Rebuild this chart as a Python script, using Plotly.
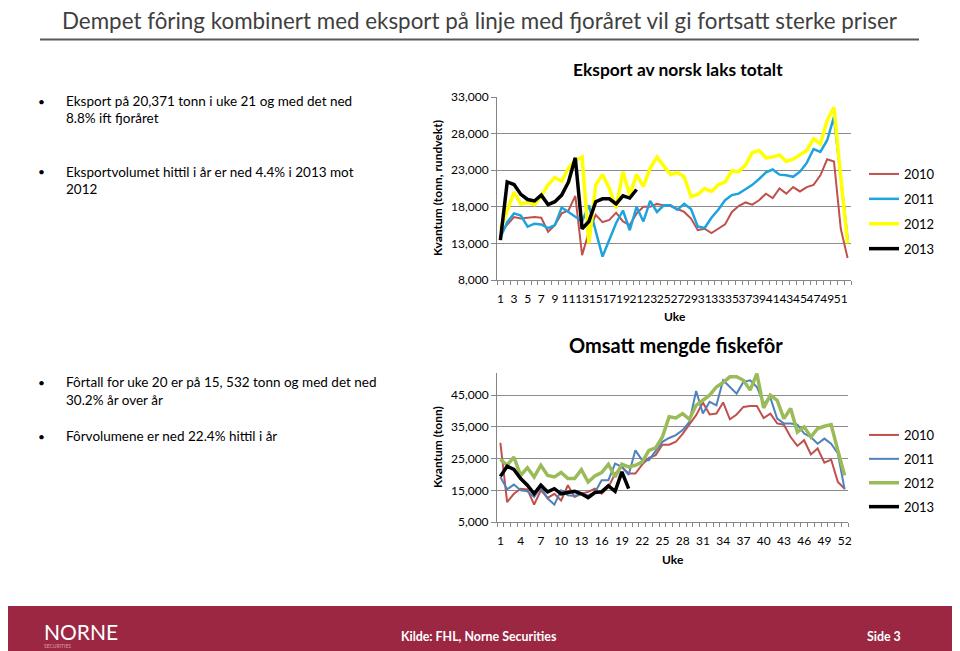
import plotly.graph_objects as go

# ---------------- data ----------------
weeks = list(range(1, 53))

exp_2010 = [14500, 15500, 16600, 16400, 16500, 16600, 16500, 14600, 15500, 17100,
            17500, 19500, 11400, 14600, 16900, 15900, 16200, 17200, 16000, 15500,
            17100, 18000, 18000, 18400, 18200, 18100, 17700, 17300, 16400, 14800,
            15000, 14400, 15000, 15600, 17300, 18100, 18600, 18300, 18900, 19800,
            19200, 20500, 19800, 20700, 20100, 20700, 21000, 22300, 24500, 24200,
            15000, 11000]
exp_2011 = [13800, 15900, 17100, 16800, 15300, 15700, 15600, 15100, 15500, 17900,
            17300, 16600, 16000, 18200, 14800, 11200, 13500, 15800, 17500, 14800,
            18000, 16000, 18800, 17300, 18200, 18200, 17600, 18400, 17700, 15300,
            15100, 16500, 17600, 18900, 19600, 19800, 20400, 21000, 21800, 22700,
            23100, 22400, 22300, 22100, 22800, 24000, 25900, 25500, 27100, 30300,
            22000, 13500]
exp_2012 = [15000, 17500, 20000, 18400, 18600, 18300, 19500, 21000, 22000, 21500,
            23300, 24300, 24800, 13000, 21000, 22400, 20500, 17800, 22800, 19600,
            22400, 20800, 23300, 24800, 23500, 22400, 22700, 22100, 19400, 19700,
            20500, 20100, 21000, 21400, 22900, 22800, 23700, 25400, 25700, 24700,
            24800, 25100, 24200, 24500, 25100, 25700, 27300, 26600, 29800, 31600,
            22000, 13000]
exp_2013 = [13450, 21400, 21050, 19700, 19000, 18800, 19600, 18300, 18700, 19600,
            21400, 24700, 15000, 16000, 18700, 19100, 19100, 18400, 19500, 19200,
            20371]

feed_2010 = [30000, 11300, 13900, 15500, 15300, 10500, 15000, 12600, 13900, 11800,
             16600, 12900, 13900, 14500, 15500, 13900, 16000, 20300, 22400, 20300,
             20300, 23100, 25200, 26100, 29400, 29400, 30300, 32800, 35800, 38700,
             42700, 38900, 39200, 42700, 37400, 38900, 41300, 41600, 41600, 37800,
             39200, 36100, 35700, 31800, 29000, 30800, 26300, 28200, 23700, 24700,
             17600, 15500]
feed_2011 = [19200, 15300, 16800, 15000, 14700, 12900, 16000, 12400, 10500, 15000,
             13400, 13200, 13900, 13400, 14300, 18200, 18200, 23400, 22400, 19900,
             27600, 24500, 24500, 27300, 30300, 31500, 32400, 34000, 36600, 46300,
             39200, 42900, 41800, 49700, 47600, 45500, 49200, 49700, 47600, 42400,
             44200, 37600, 36100, 36100, 35700, 32900, 31800, 29700, 31300, 29700,
             26600, 15300]
feed_2012 = [24800, 22900, 25500, 19700, 22100, 19200, 22900, 19700, 19200, 20600,
             18700, 18700, 21500, 17600, 19500, 20600, 23200, 19200, 23200, 22400,
             22900, 23900, 27600, 28400, 31800, 38200, 37800, 39200, 37400, 41800,
             43400, 45000, 47600, 49000, 50800, 50800, 49700, 46600, 51800, 41000,
             45000, 43400, 37600, 40800, 33400, 35000, 31800, 34500, 35200, 35700,
             27500, 19700]
feed_2013 = [19400, 22600, 21600, 18700, 16600, 13900, 16600, 14500, 15500, 13900,
             14300, 14700, 13900, 12700, 14300, 14500, 16400, 14700, 20800, 15532]

series_names = ["2010", "2011", "2012", "2013"]
top_y_ticks = [8000, 13000, 18000, 23000, 28000, 33000]
bot_y_ticks = [5000, 15000, 25000, 35000, 45000]
top_x_ticks = weeks[::2]
bot_x_ticks = weeks[::3]

title_text = "Dempet fôring kombinert med eksport på linje med fjoråret vil gi fortsatt sterke priser"
bullets = [
    (["Eksport på 20,371 tonn i uke 21 og med det ned", "8.8% ift fjoråret"], [101, 118]),
    (["Eksportvolumet hittil i år er ned 4.4% i 2013 mot", "2012"], [172, 189]),
    (["Fôrtall for uke 20 er på 15, 532 tonn og med det ned", "30.2% år over år"], [382, 400]),
    (["Fôrvolumene er ned 22.4% hittil i år"], [436]),
]

# ---------------- figure ----------------
# The page body has an 8px margin, so the figure is sized to end at the window edge
OFF = 8
W, H = 960 - OFF, 651 - OFF
FONT = "Lato, 'Open Sans', sans-serif"


def px(x):
    return (x - OFF) / W


def py(y):
    return 1 - (y - OFF) / H


fig = go.Figure()

top_styles = [("#C0504D", 2), ("#1FA3DD", 2.5), ("#FFFF00", 3.5), ("#000000", 3.5)]
top_data = [exp_2010, exp_2011, exp_2012, exp_2013]
for name, vals, (col, w) in zip(series_names, top_data, top_styles):
    fig.add_trace(go.Scatter(
        x=weeks[:len(vals)], y=vals, mode="lines", name=name,
        line=dict(color=col, width=w), xaxis="x", yaxis="y",
        legend="legend", legendgroup="t" + name))

bot_styles = [("#C0504D", 2), ("#4F81BD", 2), ("#9BBB59", 3.5), ("#000000", 3.5)]
bot_data = [feed_2010, feed_2011, feed_2012, feed_2013]
for name, vals, (col, w) in zip(series_names, bot_data, bot_styles):
    fig.add_trace(go.Scatter(
        x=weeks[:len(vals)], y=vals, mode="lines", name=name,
        line=dict(color=col, width=w), xaxis="x2", yaxis="y2",
        legend="legend2", legendgroup="b" + name))

axis_col = "#868686"
grid_col = "#8C8C8C"
tickfont = dict(family=FONT, size=12, color="#000000")

common_x = dict(range=[0.5, 52.5], showgrid=False, showline=True, linecolor=axis_col,
                linewidth=1, ticks="outside", ticklen=8, tickcolor="rgba(0,0,0,0)",
                tickangle=0, tickfont=tickfont, zeroline=False,
                minor=dict(tickmode="array", tickvals=[i + 0.5 for i in range(0, 53)],
                           ticks="outside", ticklen=4, tickcolor=axis_col, showgrid=False),
                fixedrange=True)
common_y = dict(showgrid=True, gridcolor=grid_col, gridwidth=1, showline=True,
                linecolor=axis_col, ticks="outside", ticklen=5, tickcolor=axis_col,
                tickformat=",", tickfont=tickfont, zeroline=False, tickmode="array")

fig.update_layout(
    width=W, height=H,
    margin=dict(l=0, r=0, t=0, b=0, pad=0, autoexpand=False),
    paper_bgcolor="white", plot_bgcolor="white",
    font=dict(family=FONT, color="#000000"),
    xaxis=dict(domain=[px(497), px(851)], anchor="y", tickmode="array",
               tickvals=top_x_ticks, ticktext=[str(v) for v in top_x_ticks], **common_x),
    yaxis=dict(domain=[py(280), py(96.7)], anchor="x", range=[8000, 33050],
               tickvals=top_y_ticks, **common_y),
    xaxis2=dict(domain=[px(497), px(848)], anchor="y2", tickmode="array",
                tickvals=bot_x_ticks, ticktext=[str(v) for v in bot_x_ticks], **common_x),
    yaxis2=dict(domain=[py(522), py(373)], anchor="x2", range=[5000, 52000],
                tickvals=bot_y_ticks, **common_y),
    legend=dict(x=px(864), y=py(159), xanchor="left", yanchor="top",
                font=dict(family=FONT, size=13, color="#000000"),
                tracegroupgap=5, bgcolor="rgba(0,0,0,0)"),
    legend2=dict(x=px(864), y=py(420), xanchor="left", yanchor="top",
                 font=dict(family=FONT, size=13, color="#000000"),
                 tracegroupgap=4, bgcolor="rgba(0,0,0,0)"),
    showlegend=True,
)

shapes = [
    dict(type="line", xref="paper", yref="paper", x0=px(40), x1=px(919), y0=py(39.5), y1=py(39.5),
         line=dict(color="#595959", width=2)),
    dict(type="rect", xref="paper", yref="paper", x0=0, x1=1, y0=0, y1=py(606),
         fillcolor="#9B2743", line=dict(width=0), layer="below"),
]
fig.update_layout(shapes=shapes)

ann = []
ann.append(dict(text=title_text, x=px(60), y=py(21), xanchor="left", yanchor="middle",
                font=dict(family=FONT, size=22.4, color="#3F3F3F")))
for lines, ys in bullets:
    ann.append(dict(text="•", x=px(36), y=py(ys[0]), xanchor="left", yanchor="middle",
                    font=dict(family=FONT, size=12, color="#000000")))
    for t, yy in zip(lines, ys):
        ann.append(dict(text=t, x=px(64), y=py(yy), xanchor="left", yanchor="middle",
                        font=dict(family=FONT, size=13.5, color="#000000")))

ann += [
    dict(text="<b>Eksport av norsk laks totalt</b>", x=px(678), y=py(69), xanchor="center",
         yanchor="middle", font=dict(family=FONT, size=17.4, color="#000000")),
    dict(text="<b>Omsatt mengde fiskefôr</b>", x=px(676), y=py(345), xanchor="center",
         yanchor="middle", font=dict(family=FONT, size=20, color="#000000")),
    dict(text="<b>Uke</b>", x=px(675), y=py(317), xanchor="center", yanchor="middle",
         font=dict(family=FONT, size=12, color="#000000")),
    dict(text="<b>Uke</b>", x=px(673), y=py(559), xanchor="center", yanchor="middle",
         font=dict(family=FONT, size=12, color="#000000")),
    dict(text="<b>Kvantum (tonn, rundvekt)</b>", x=px(437), y=py(188), xanchor="center",
         yanchor="middle", textangle=-90, font=dict(family=FONT, size=12, color="#000000")),
    dict(text="<b>Kvantum (tonn)</b>", x=px(437), y=py(447), xanchor="center",
         yanchor="middle", textangle=-90, font=dict(family=FONT, size=12, color="#000000")),
    dict(text="<b>Kilde: FHL, Norne Securities</b>", x=px(479), y=py(636), xanchor="center",
         yanchor="middle", font=dict(family=FONT, size=12.4, color="#FFFFFF")),
    dict(text="<b>Side 3</b>", x=px(884), y=py(636), xanchor="center",
         yanchor="middle", font=dict(family=FONT, size=12.4, color="#FFFFFF")),
    dict(text="NORNE", x=px(42), y=py(631), xanchor="left", yanchor="middle",
         font=dict(family=FONT, size=21, color="#FFFFFF")),
    dict(text="SECURITIES", x=px(42), y=py(645.5), xanchor="left", yanchor="middle",
         font=dict(family=FONT, size=5, color="#D9A0AE")),
]
for a in ann:
    a.setdefault("xref", "paper")
    a.setdefault("yref", "paper")
    a.setdefault("showarrow", False)
fig.update_layout(annotations=ann)

fig.write_html("out.html")
